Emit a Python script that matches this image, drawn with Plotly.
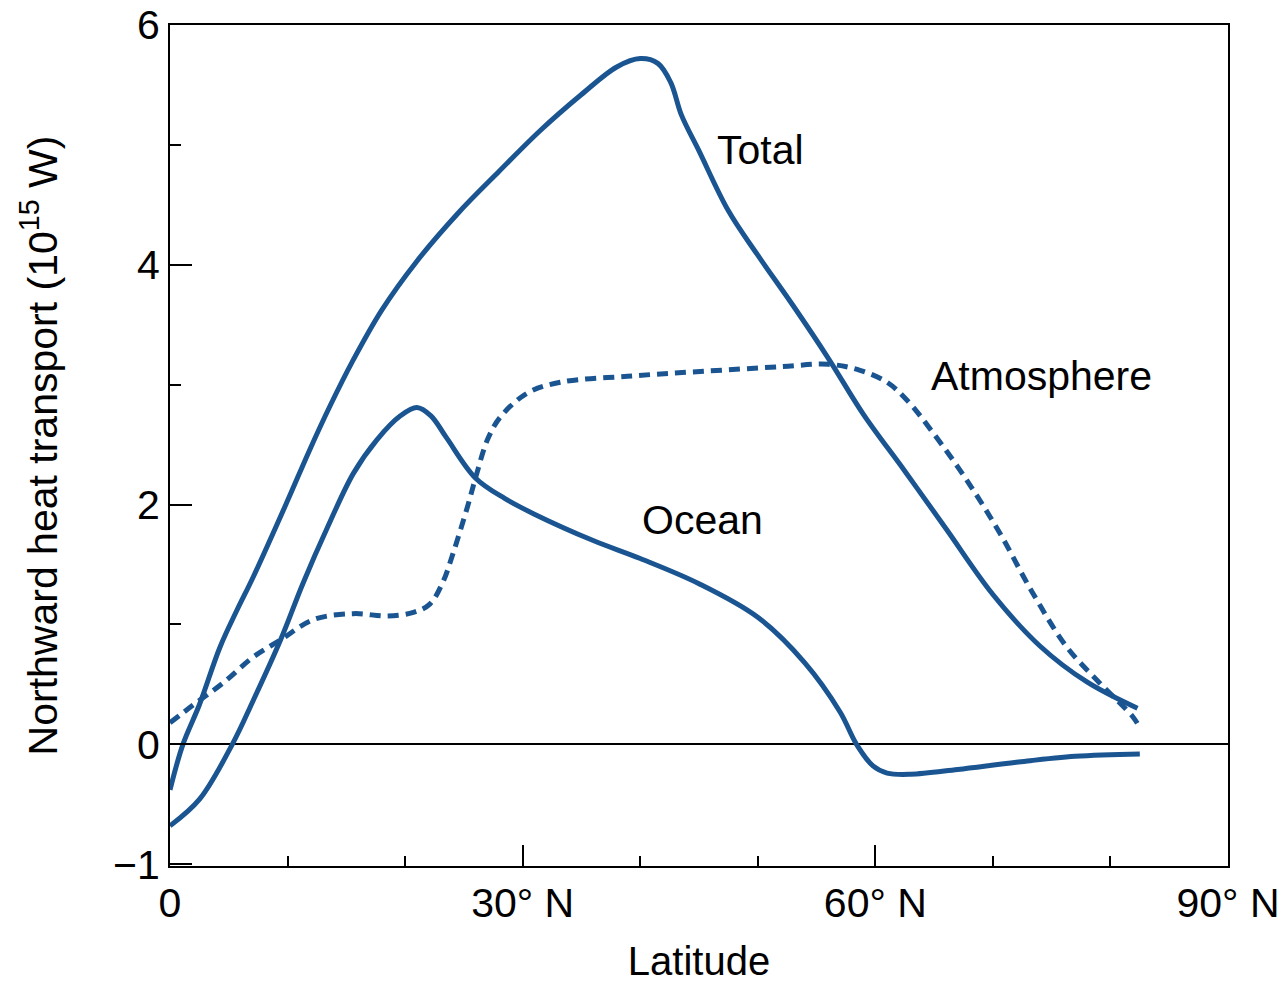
import plotly.graph_objects as go

# Latitude (degrees N) and northward heat transport (10^15 W)
total_lat = [0, 1.1, 2.5, 4.25, 5.7, 7.1, 9.9, 11.9, 13.6, 15.5, 18.0, 21.0, 24.5, 28.0,
             31.5, 35.0, 38.0, 40.0, 41.5, 42.6, 43.5, 45.0, 47.5, 50.0, 53.0, 56.0,
             59.0, 62.5, 66.0, 70.0, 74.0, 78.0, 82.3]
total_val = [-0.38, 0.0, 0.33, 0.81, 1.12, 1.40, 2.01, 2.46, 2.82, 3.19, 3.62, 4.03, 4.43, 4.78,
             5.12, 5.42, 5.65, 5.72, 5.68, 5.52, 5.25, 4.95, 4.45, 4.08, 3.66, 3.22,
             2.75, 2.28, 1.80, 1.25, 0.82, 0.52, 0.30]

ocean_lat = [0, 2.5, 5.3, 7.1, 9.4, 11.3, 13.4, 15.6, 17.6, 19.6, 21.0, 22.2, 23.5, 26.0,
             28.5, 31.0, 36.0, 40.0, 45.0, 50.0, 54.0, 57.0, 58.4, 59.8, 61.0, 63.0, 67.0,
             72.0, 77.0, 82.5]
ocean_val = [-0.68, -0.46, 0.0, 0.37, 0.87, 1.34, 1.81, 2.26, 2.54, 2.74, 2.81, 2.74, 2.56, 2.22,
             2.05, 1.92, 1.70, 1.55, 1.34, 1.06, 0.68, 0.27, 0.0, -0.18, -0.24, -0.25, -0.21,
             -0.15, -0.10, -0.08]

atmos_lat = [0, 2.0, 4.5, 7.1, 9.4, 12.2, 15.6, 18.5, 20.7, 22.1, 23.2, 24.1, 25.3, 26.1,
             27.0, 28.1, 30.4, 33.2, 38.9, 45.1, 52.0, 56.0, 58.7, 61.0, 62.7, 64.9, 67.8,
             70.6, 73.4, 76.3, 79.1, 81.9, 82.5]
atmos_val = [0.18, 0.33, 0.51, 0.73, 0.87, 1.04, 1.09, 1.07, 1.10, 1.17, 1.35, 1.60, 1.98, 2.26,
             2.54, 2.73, 2.93, 3.02, 3.07, 3.11, 3.15, 3.17, 3.12, 3.02, 2.87, 2.60, 2.20,
             1.76, 1.26, 0.81, 0.51, 0.23, 0.14]

x_tickvals = [0, 30, 60, 90]
x_ticktext = ["0", "30° N", "60° N", "90° N"]
x_minor = [10, 20, 40, 50, 70, 80]
y_tickvals = [-1, 0, 2, 4, 6]
y_ticktext = ["−1", "0", "2", "4", "6"]
y_minor = [1, 3, 5]

labels = [("Total", 46.4, 4.96), ("Atmosphere", 64.6, 3.07), ("Ocean", 40.0, 1.87)]

BLUE = "#1a5591"
FONT = "Liberation Sans, Arial, sans-serif"

fig = go.Figure()
fig.add_trace(go.Scatter(x=total_lat, y=total_val, mode="lines",
                         line=dict(color=BLUE, width=5, shape="spline", smoothing=1.0)))
fig.add_trace(go.Scatter(x=ocean_lat, y=ocean_val, mode="lines",
                         line=dict(color=BLUE, width=5, shape="spline", smoothing=1.0)))
fig.add_trace(go.Scatter(x=atmos_lat, y=atmos_val, mode="lines",
                         line=dict(color=BLUE, width=5, shape="spline", smoothing=1.0,
                                   dash="11px,7px")))

for text, x, y in labels:
    fig.add_annotation(x=x, y=y, text=text, showarrow=False, xanchor="left", yanchor="middle",
                       font=dict(family=FONT, size=41, color="black"))

fig.update_layout(
    width=1285, height=986,
    margin=dict(l=170, r=57, t=25, b=120),
    paper_bgcolor="white", plot_bgcolor="white",
    showlegend=False,
    font=dict(family=FONT, size=41, color="black"),
    xaxis=dict(range=[0, 90], tickvals=x_tickvals, ticktext=x_ticktext,
               ticks="inside", ticklen=21, tickwidth=2, tickcolor="black",
               minor=dict(tickvals=x_minor, ticks="inside", ticklen=10, tickwidth=2,
                          tickcolor="black", showgrid=False),
               showline=True, linecolor="black", linewidth=2, mirror=True,
               showgrid=False, zeroline=False, automargin=False,
               title=dict(text="Latitude", standoff=22, font=dict(size=40)),
               tickfont=dict(size=41)),
    yaxis=dict(range=[-1.015, 6], tickvals=y_tickvals, ticktext=y_ticktext,
               ticks="inside", ticklen=22, tickwidth=2, tickcolor="black",
               minor=dict(tickvals=y_minor, ticks="inside", ticklen=11, tickwidth=2,
                          tickcolor="black", showgrid=False),
               showline=True, linecolor="black", linewidth=2, mirror=True,
               showgrid=False, zeroline=True, zerolinecolor="black", zerolinewidth=2,
               automargin=False,
               title=dict(text="Northward heat transport (10<sup>15</sup> W)", standoff=43,
                          font=dict(size=41)),
               tickfont=dict(size=41)),
)

fig.write_html("out.html", config={"displayModeBar": False},
               post_script="document.body.style.margin='0';")
